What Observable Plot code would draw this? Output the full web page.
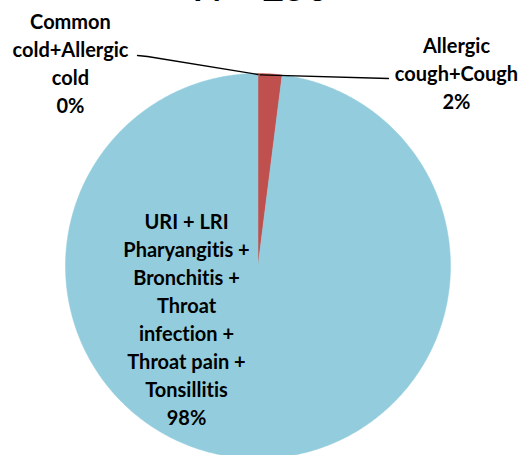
<!DOCTYPE html>
<html>
<head>
<meta charset="utf-8">
<script src="https://cdn.jsdelivr.net/npm/d3@7"></script>
<script src="https://cdn.jsdelivr.net/npm/@observablehq/plot@0.6"></script>
<style>
  html, body { margin: 0; padding: 0; background: #fff; }
  #chart svg { display: block; overflow: hidden; font-variant-ligatures: none; font-feature-settings: "liga" 0; }
</style>
</head>
<body>
<div id="chart"></div>
<script>
// ---- data ----
const title = "N = 250";
const categories = [
  "Common\ncold+Allergic\ncold",
  "Allergic\ncough+Cough",
  "URI + LRI\nPharyangitis +\nBronchitis +\nThroat\ninfection +\nThroat pain +\nTonsillitis"
];
const percents = [0, 2, 98];
const colors = ["#4F81BD", "#C0504D", "#93CDDD"];

// ---- layout (pixels) ----
const W = 520, H = 455;
const cx = 257.5, cy = 265.5, R = 192.5;
// label block centres (pixel coords) and leader line elbows
const labelPos = [
  {x: 70, y: 62, elbow: [[137, 55], [147, 56]]},
  {x: 456, y: 72, elbow: [[388, 78]]},
  {x: 186, y: 318, elbow: null}
];

// ---- derived ----
const pie = d3.pie().sort(null).value(d => d.value);
const rows = categories.map((c, i) => ({name: c, value: percents[i], color: colors[i], i}));
const arcs = pie(rows);

function pt(angle, r) { // angle clockwise from 12 o'clock, px coords
  return [cx + r * Math.sin(angle), cy - r * Math.cos(angle)];
}

const polys = [];
arcs.forEach(a => {
  if (a.endAngle - a.startAngle <= 0) return;
  const n = Math.max(2, Math.ceil((a.endAngle - a.startAngle) / 0.01));
  polys.push({k: a.data.i, x: cx, y: cy, color: a.data.color});
  for (let j = 0; j <= n; j++) {
    const t = a.startAngle + (a.endAngle - a.startAngle) * j / n;
    const [x, y] = pt(t, R);
    polys.push({k: a.data.i, x, y, color: a.data.color});
  }
  polys.push({k: a.data.i, x: cx, y: cy, color: a.data.color});
});

const labels = arcs.map((a, i) => ({
  text: a.data.name + "\n" + a.data.value + "%",
  x: labelPos[i].x, y: labelPos[i].y
}));

const leaders = [];
arcs.forEach((a, i) => {
  if (!labelPos[i].elbow) return;
  const mid = (a.startAngle + a.endAngle) / 2;
  const [ex, ey] = pt(mid, R);
  const pts = [...labelPos[i].elbow, [ex + (i === 1 ? -10 : 0), ey + 1]];
  pts.forEach(([x, y]) => leaders.push({k: i, x, y}));
});

const plot = Plot.plot({
  width: W, height: H,
  margin: 0,
  x: {domain: [0, W], range: [0, W], axis: null},
  y: {domain: [0, H], range: [0, H], axis: null},
  style: {fontFamily: "Lato, 'Open Sans', sans-serif", background: "#fff"},
  marks: [
    Plot.line(polys, {x: "x", y: "y", z: "k", fill: "color", stroke: "color", strokeWidth: 0.5, curve: "linear", clip: true}),
    Plot.line(leaders, {x: "x", y: "y", z: "k", stroke: "#000", strokeWidth: 1.3}),
    Plot.text(labels, {x: "x", y: "y", text: "text", fontSize: 20, fontWeight: "bold", lineHeight: 1.4, textAnchor: "middle", lineAnchor: "middle", fill: "#000"}),
    Plot.text([title], {x: [W / 2], y: [0], text: d => d, fontSize: 38, fontWeight: "bold", lineAnchor: "bottom", fill: "#000"})
  ]
});
document.getElementById("chart").appendChild(plot);
</script>
</body>
</html>
